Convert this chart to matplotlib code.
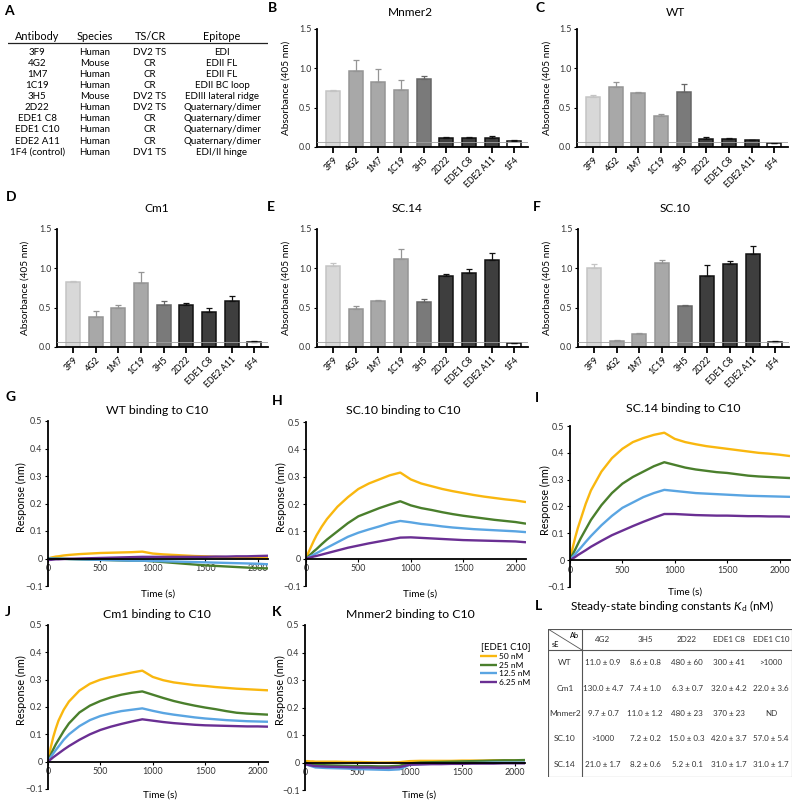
import matplotlib.pyplot as plt
import numpy as np

plt.rcParams['font.family'] = ['Lato', 'DejaVu Sans']
plt.rcParams['mathtext.fontset'] = 'custom'
plt.rcParams['mathtext.it'] = 'Lato:italic'
plt.rcParams['mathtext.rm'] = 'Lato'
plt.rcParams['axes.unicode_minus'] = True

# ---- data ----
ab_names = ['3F9', '4G2', '1M7', '1C19', '3H5', '2D22', 'EDE1 C8', 'EDE1 C10', 'EDE2 A11', '1F4 (control)']
ab_species = ['Human', 'Mouse', 'Human', 'Human', 'Mouse', 'Human', 'Human', 'Human', 'Human', 'Human']
ab_tscr = ['DV2 TS', 'CR', 'CR', 'CR', 'DV2 TS', 'DV2 TS', 'CR', 'CR', 'CR', 'DV1 TS']
ab_epitope = ['EDI', 'EDII FL', 'EDII FL', 'EDII BC loop', 'EDIII lateral ridge', 'Quaternary/dimer',
              'Quaternary/dimer', 'Quaternary/dimer', 'Quaternary/dimer', 'EDI/II hinge']

bar_labels = ['3F9', '4G2', '1M7', '1C19', '3H5', '2D22', 'EDE1 C8', 'EDE2 A11', '1F4']
mnmer2_mean = [0.71, 0.96, 0.82, 0.73, 0.86, 0.12, 0.12, 0.12, 0.08]
mnmer2_err = [0.02, 0.14, 0.17, 0.12, 0.04, 0.01, 0.01, 0.02, 0.01]
wt_mean = [0.64, 0.76, 0.69, 0.39, 0.70, 0.10, 0.10, 0.085, 0.055]
wt_err = [0.02, 0.06, 0.01, 0.03, 0.10, 0.03, 0.01, 0.01, 0.0]
cm1_mean = [0.83, 0.38, 0.50, 0.81, 0.54, 0.53, 0.45, 0.58, 0.065]
cm1_err = [0.01, 0.08, 0.03, 0.14, 0.05, 0.03, 0.05, 0.07, 0.005]
sc14_mean = [1.03, 0.48, 0.59, 1.12, 0.57, 0.90, 0.94, 1.11, 0.05]
sc14_err = [0.04, 0.04, 0.01, 0.13, 0.04, 0.03, 0.05, 0.09, 0.005]
sc10_mean = [1.01, 0.08, 0.17, 1.07, 0.52, 0.90, 1.05, 1.18, 0.065]
sc10_err = [0.05, 0.01, 0.01, 0.03, 0.01, 0.14, 0.04, 0.11, 0.01]
cutoff = 0.06

times = [0, 25, 50, 75, 100, 150, 200, 300, 400, 500, 600, 700, 800, 900, 1000, 1100, 1200,
         1300, 1400, 1500, 1600, 1700, 1800, 1900, 2000, 2100]
conc_labels = ['50 nM', '25 nM', '12.5 nM', '6.25 nM']

wt_50 = [0, 0.003, 0.005, 0.007, 0.008, 0.011, 0.013, 0.016, 0.018, 0.02, 0.021, 0.022, 0.023, 0.025, 0.018,
         0.015, 0.013, 0.011, 0.009, 0.008, 0.006, 0.005, 0.004, 0.003, 0.002, 0.001]
wt_25 = [0, 0, 0, 0, 0, -0.001, -0.002, -0.003, -0.004, -0.005, -0.006, -0.007, -0.008, -0.008, -0.01,
         -0.013, -0.016, -0.019, -0.022, -0.025, -0.027, -0.029, -0.031, -0.033, -0.035, -0.036]
wt_12 = [0, 0, 0, -0.001, -0.001, -0.001, -0.002, -0.003, -0.004, -0.005, -0.006, -0.007, -0.008, -0.008,
         -0.009, -0.01, -0.011, -0.012, -0.013, -0.014, -0.015, -0.016, -0.017, -0.018, -0.019, -0.021]
wt_6 = [-0.005, -0.005, -0.004, -0.003, -0.003, -0.002, -0.001, 0, 0.001, 0.002, 0.003, 0.004, 0.005, 0.006,
        0.006, 0.006, 0.006, 0.006, 0.006, 0.006, 0.007, 0.007, 0.008, 0.008, 0.009, 0.01]

sc10_50 = [0, 0.024, 0.045, 0.066, 0.085, 0.117, 0.145, 0.19, 0.225, 0.255, 0.275, 0.29, 0.305, 0.315,
           0.29, 0.275, 0.265, 0.255, 0.247, 0.24, 0.233, 0.227, 0.222, 0.217, 0.213, 0.207]
sc10_25 = [0, 0.009, 0.018, 0.027, 0.035, 0.053, 0.07, 0.10, 0.13, 0.155, 0.17, 0.185, 0.198, 0.21,
           0.195, 0.185, 0.178, 0.17, 0.163, 0.157, 0.152, 0.147, 0.142, 0.138, 0.134, 0.128]
sc10_12 = [0, 0.005, 0.01, 0.015, 0.02, 0.03, 0.04, 0.06, 0.08, 0.095, 0.107, 0.118, 0.13, 0.138,
           0.133, 0.127, 0.123, 0.118, 0.114, 0.111, 0.108, 0.106, 0.104, 0.102, 0.1, 0.097]
sc10_6 = [0, 0.003, 0.005, 0.008, 0.01, 0.015, 0.02, 0.03, 0.04, 0.048, 0.056, 0.063, 0.07, 0.077,
          0.078, 0.076, 0.074, 0.072, 0.07, 0.068, 0.067, 0.066, 0.065, 0.064, 0.063, 0.06]

sc14_50 = [0, 0.045, 0.085, 0.12, 0.15, 0.21, 0.26, 0.33, 0.38, 0.415, 0.44, 0.455, 0.467, 0.475,
           0.452, 0.44, 0.432, 0.425, 0.42, 0.415, 0.41, 0.405, 0.4, 0.397, 0.393, 0.388]
sc14_25 = [0, 0.021, 0.04, 0.06, 0.08, 0.115, 0.15, 0.205, 0.25, 0.285, 0.31, 0.33, 0.35, 0.365,
           0.355, 0.345, 0.338, 0.333, 0.328, 0.325, 0.32, 0.315, 0.312, 0.31, 0.308, 0.306]
sc14_12 = [0, 0.012, 0.023, 0.034, 0.045, 0.068, 0.09, 0.13, 0.165, 0.195, 0.215, 0.235, 0.25, 0.262,
           0.258, 0.254, 0.25, 0.248, 0.246, 0.244, 0.242, 0.24, 0.239, 0.238, 0.237, 0.236]
sc14_6 = [0, 0.006, 0.012, 0.019, 0.025, 0.037, 0.05, 0.072, 0.093, 0.11, 0.127, 0.143, 0.158, 0.172,
          0.172, 0.17, 0.168, 0.167, 0.166, 0.166, 0.165, 0.164, 0.164, 0.163, 0.163, 0.162]

cm1_50 = [0, 0.05, 0.09, 0.122, 0.15, 0.19, 0.22, 0.26, 0.285, 0.30, 0.31, 0.318, 0.326, 0.333,
          0.31, 0.298, 0.29, 0.285, 0.28, 0.277, 0.273, 0.27, 0.267, 0.265, 0.263, 0.261]
cm1_25 = [0, 0.024, 0.045, 0.064, 0.08, 0.112, 0.14, 0.18, 0.205, 0.222, 0.235, 0.245, 0.252, 0.257,
          0.245, 0.233, 0.222, 0.213, 0.205, 0.198, 0.192, 0.185, 0.179, 0.176, 0.174, 0.172]
cm1_12 = [0, 0.016, 0.03, 0.043, 0.055, 0.08, 0.1, 0.13, 0.152, 0.167, 0.177, 0.185, 0.19, 0.195,
          0.186, 0.178, 0.172, 0.167, 0.162, 0.158, 0.155, 0.152, 0.15, 0.148, 0.147, 0.146]
cm1_6 = [0, 0.008, 0.016, 0.023, 0.03, 0.044, 0.057, 0.08, 0.1, 0.116, 0.128, 0.138, 0.147, 0.155,
         0.15, 0.145, 0.141, 0.138, 0.135, 0.133, 0.132, 0.131, 0.13, 0.129, 0.129, 0.128]

mn_50 = [0.005, 0.005, 0.004, 0.004, 0.003, 0.003, 0.003, 0.003, 0.002, 0.002, 0.001, 0.0, 0.0, 0.001,
         0.005, 0.006, 0.006, 0.006, 0.006, 0.007, 0.007, 0.007, 0.008, 0.008, 0.008, 0.008]
mn_25 = [0, -0.003, -0.005, -0.007, -0.008, -0.009, -0.01, -0.011, -0.012, -0.013, -0.013, -0.014, -0.014,
         -0.012, -0.003, 0.0, 0.001, 0.002, 0.003, 0.004, 0.005, 0.006, 0.007, 0.008, 0.008, 0.009]
mn_12 = [-0.005, -0.009, -0.012, -0.015, -0.018, -0.019, -0.02, -0.021, -0.022, -0.024, -0.025, -0.026,
         -0.027, -0.025, -0.008, -0.006, -0.005, -0.004, -0.003, -0.002, -0.002, -0.001, 0.0, 0.0, 0.0, 0.0]
mn_6 = [-0.005, -0.008, -0.01, -0.012, -0.013, -0.014, -0.015, -0.016, -0.017, -0.018, -0.018, -0.019,
        -0.019, -0.017, -0.008, -0.007, -0.006, -0.006, -0.005, -0.005, -0.004, -0.004, -0.004, -0.003,
        -0.003, -0.003]

kd_cols = ['4G2', '3H5', '2D22', 'EDE1 C8', 'EDE1 C10']
kd_rows = ['WT', 'Cm1', 'Mnmer2', 'SC.10', 'SC.14']
kd_wt = ['11.0 ± 0.9', '8.6 ± 0.8', '480 ± 60', '300 ± 41', '>1000']
kd_cm1 = ['130.0 ± 4.7', '7.4 ± 1.0', '6.3 ± 0.7', '32.0 ± 4.2', '22.0 ± 3.6']
kd_mnmer2 = ['9.7 ± 0.7', '11.0 ± 1.2', '480 ± 23', '370 ± 23', 'ND']
kd_sc10 = ['>1000', '7.2 ± 0.2', '15.0 ± 0.3', '42.0 ± 3.7', '57.0 ± 5.4']
kd_sc14 = ['21.0 ± 1.7', '8.2 ± 0.6', '5.2 ± 0.1', '31.0 ± 1.7', '31.0 ± 1.7']

# ---- styles ----
bar_fill = ['#d8d8d8', '#a8a8a8', '#a8a8a8', '#a8a8a8', '#7a7a7a', '#3e3e3e', '#3e3e3e', '#3e3e3e', 'white']
bar_edge = ['#c4c4c4', '#959595', '#959595', '#959595', '#666666', '#111111', '#111111', '#111111', '#111111']
trace_colors = ['#f9b70f', '#4a7f2c', '#5aa5e2', '#6a2f93']

W, H = 796, 801
fig = plt.figure(figsize=(W / 100, H / 100), dpi=100)


def box(l, t, r, b):
    return [l / W, 1 - b / H, (r - l) / W, (b - t) / H]


def ftext(x, y, s, **kw):
    kw.setdefault('ha', 'center')
    kw.setdefault('va', 'center')
    fig.text(x / W, 1 - y / H, s, **kw)


def letter(x, y, s):
    ftext(x, y, s, fontsize=10, fontweight='bold', ha='left')


# ---- A: antibody table ----
axA = fig.add_axes(box(8, 30, 268, 160))
axA.set_xlim(0, 1)
axA.set_ylim(9.7, -2)
axA.axis('off')
col_x = [0.112, 0.335, 0.546, 0.823]
for cx, head in zip(col_x, ['Antibody', 'Species', 'TS/CR', 'Epitope']):
    axA.text(cx, -1.4, head, ha='center', va='center', fontsize=7.8)
axA.plot([0, 1], [-0.8, -0.8], color='#222222', lw=0.9)
for i, row in enumerate(zip(ab_names, ab_species, ab_tscr, ab_epitope)):
    for cx, s in zip(col_x, row):
        axA.text(cx, i, s, ha='center', va='center', fontsize=7.0)
letter(4, 11, 'A')


# ---- B-F: ELISA bars ----
def bars(l, t, r, b, means, errs):
    ax = fig.add_axes(box(l, t, r, b))
    x = np.arange(len(bar_labels))
    ax.bar(x, means, width=0.62, color=bar_fill, edgecolor=bar_edge, linewidth=1.1, zorder=2)
    for xi, m, e, c in zip(x, means, errs, bar_edge):
        ax.errorbar(xi, m, yerr=[[0], [e]], fmt='none', ecolor=c, elinewidth=0.9,
                    capsize=2.2, capthick=0.9, zorder=3)
    ax.axhline(cutoff, color='#a0a0a0', lw=0.6, zorder=4)
    ax.set_xlim(-0.7, 8.6)
    ax.set_ylim(0, 1.5)
    ax.set_yticks([0, 0.5, 1.0, 1.5])
    ax.set_yticklabels(['0.0', '0.5', '1.0', '1.5'])
    ax.set_xticks(x)
    ax.set_xticklabels(bar_labels, rotation=45, ha='right', rotation_mode='anchor')
    for s in ['top', 'right']:
        ax.spines[s].set_visible(False)
    for s in ['left', 'bottom']:
        ax.spines[s].set_linewidth(1.3)
    ax.tick_params(axis='x', length=4, width=1.3, labelsize=6.3, pad=2)
    ax.tick_params(axis='y', length=2.5, width=0.8, labelsize=6.3, pad=1.5, labelcolor='#333333')
    return ax


bars(317, 29, 528, 147, mnmer2_mean, mnmer2_err)
bars(577, 29, 788, 147, wt_mean, wt_err)
bars(57, 229, 268, 347, cm1_mean, cm1_err)
bars(317, 229, 528, 347, sc14_mean, sc14_err)
bars(578, 229, 789, 347, sc10_mean, sc10_err)

for x, y in [(286, 88), (547, 88), (25, 288), (286, 288), (547, 288)]:
    ftext(x, y, 'Absorbance (405 nm)', rotation=90, fontsize=7.2)

ftext(410, 13, 'Mnmer2', fontsize=8.6)
ftext(675, 12, 'WT', fontsize=8.6)
ftext(157, 209, 'Cm1', fontsize=8.6)
ftext(407, 208, 'SC.14', fontsize=8.6)
ftext(675, 208, 'SC.10', fontsize=8.6)
letter(268, 8, 'B')
letter(535, 8, 'C')
letter(6, 197, 'D')
letter(267, 207, 'E')
letter(533, 207, 'F')


# ---- G-K: binding kinetics ----
def kinetics(l, t, r, b, series, legend=False):
    ax = fig.add_axes(box(l, t, r, b))
    for vals, c, lab in zip(series, trace_colors, conc_labels):
        ax.plot(times, vals, color=c, lw=1.7, label=lab, solid_capstyle='butt')
    ax.set_xlim(0, 2100)
    ax.set_ylim(-0.1, 0.5)
    ax.spines['bottom'].set_position(('data', 0))
    for s in ['top', 'right']:
        ax.spines[s].set_visible(False)
    for s in ['left', 'bottom']:
        ax.spines[s].set_linewidth(1.3)
    yt = [-0.1, 0, 0.1, 0.2, 0.3, 0.4, 0.5]
    ax.set_yticks(yt)
    ax.set_yticklabels(['\u22120.1', '0', '0.1', '0.2', '0.3', '0.4', '0.5'])
    ax.set_xticks([0, 500, 1000, 1500, 2000])
    ax.set_xticklabels(['0', '500', '1000', '1500', '2000'])
    ax.tick_params(axis='both', length=2.5, width=0.8, labelsize=6.4, pad=1.5, labelcolor='#333333')
    if legend:
        ax.legend(title='[EDE1 C10]', frameon=False, fontsize=6, title_fontsize=6.8,
                  handlelength=2.0, handletextpad=0.3, labelspacing=0.2,
                  loc='upper right', bbox_to_anchor=(1.06, 0.94), alignment='right')
    return ax


kinetics(48, 421, 268, 586, [wt_50, wt_25, wt_12, wt_6])
kinetics(306, 422, 526, 586, [sc10_50, sc10_25, sc10_12, sc10_6])
kinetics(570, 426, 790, 587, [sc14_50, sc14_25, sc14_12, sc14_6])
kinetics(48, 625, 268, 789, [cm1_50, cm1_25, cm1_12, cm1_6])
kinetics(305, 625, 525, 790, [mn_50, mn_25, mn_12, mn_6], legend=True)

ftext(157, 411, 'WT binding to C10', fontsize=8.8)
ftext(403, 411, 'SC.10 binding to C10', fontsize=8.8)
ftext(683, 408, 'SC.14 binding to C10', fontsize=8.8)
ftext(157, 614, 'Cm1 binding to C10', fontsize=8.8)
ftext(410, 614, 'Mnmer2 binding to C10', fontsize=8.8)
for x, y in [(21, 497), (281, 497), (545, 500), (21, 690), (280, 690)]:
    ftext(x, y, 'Response (nm)', rotation=90, fontsize=7.8)
for x, y in [(158, 594), (420, 594), (685, 592), (160, 795), (419, 795)]:
    ftext(x, y, 'Time (s)', fontsize=7.2)
letter(5, 397, 'G')
letter(272, 401, 'H')
letter(535, 398, 'I')
letter(5, 612, 'J')
letter(272, 612, 'K')

# ---- L: Kd table ----
axL = fig.add_axes(box(548, 629, 792, 777))
col_w = [0.81, 1, 1, 1, 1, 1]
col_edges = np.concatenate([[0], np.cumsum(col_w)])
row_h = [0.83, 1, 1, 1, 1, 1]
row_edges = np.concatenate([[0], np.cumsum(row_h)])
axL.set_xlim(0, col_edges[-1])
axL.set_ylim(row_edges[-1], 0)
axL.axis('off')
line_kw = dict(color='#555555', lw=0.8)
axL.plot([0, col_edges[-1], col_edges[-1], 0, 0], [0, 0, row_edges[-1], row_edges[-1], 0], **line_kw)
axL.plot([0, col_edges[-1]], [row_edges[1], row_edges[1]], **line_kw)
axL.plot([col_edges[1], col_edges[1]], [0, row_edges[-1]], **line_kw)
axL.plot([0, col_edges[1]], [0, row_edges[1]], color='#555555', lw=0.6)
axL.text(col_edges[1] - 0.08, row_edges[1] * 0.3, 'Ab', ha='right', va='center', fontsize=5.3)
axL.text(0.08, row_edges[1] * 0.72, 'sE', ha='left', va='center', fontsize=5.3)
col_c = (col_edges[:-1] + col_edges[1:]) / 2
row_c = (row_edges[:-1] + row_edges[1:]) / 2
for j, s in enumerate(kd_cols):
    axL.text(col_c[j + 1], row_c[0], s, ha='center', va='center', fontsize=5.8, color='#333333')
for i, (name, vals) in enumerate(zip(kd_rows, [kd_wt, kd_cm1, kd_mnmer2, kd_sc10, kd_sc14])):
    axL.text(col_c[0], row_c[i + 1], name, ha='center', va='center', fontsize=6.0, color='#333333')
    for j, s in enumerate(vals):
        axL.text(col_c[j + 1], row_c[i + 1], s, ha='center', va='center', fontsize=5.8, color='#333333')

ftext(672, 606, r'Steady-state binding constants $\mathit{K}_\mathrm{d}$ (nM)', fontsize=8.6)
letter(535, 606, 'L')

fig.savefig('out.png', dpi=100)
